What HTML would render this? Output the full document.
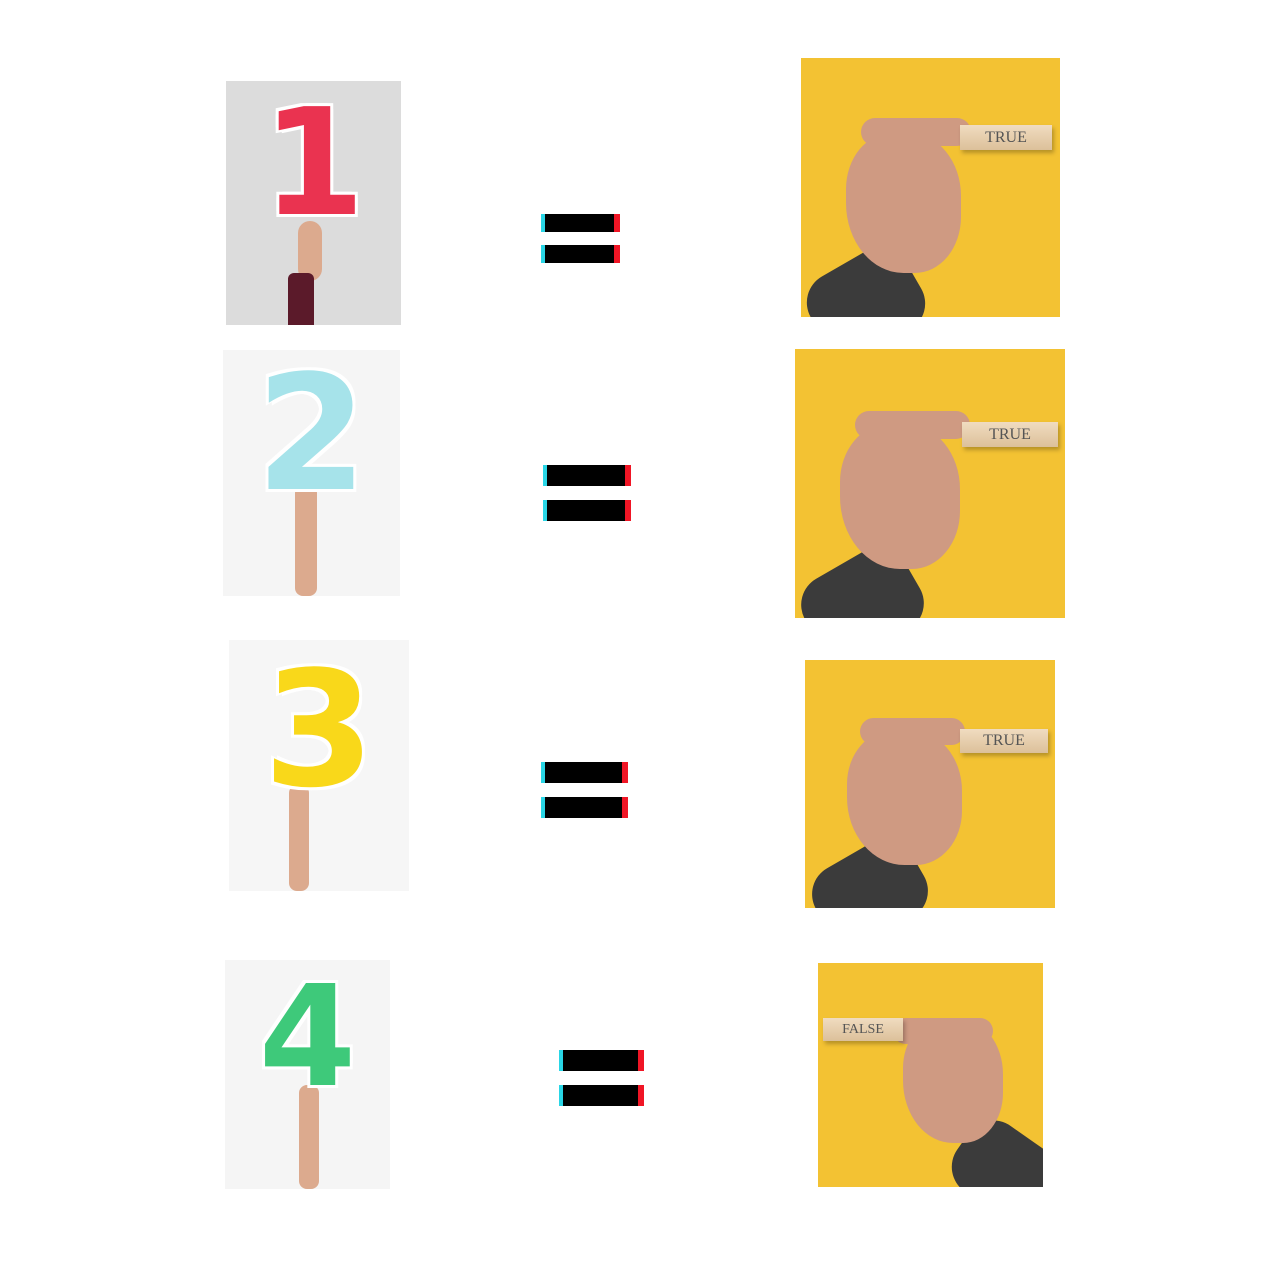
<!DOCTYPE html>
<html><head><meta charset="utf-8"><style>
html,body{margin:0;padding:0;background:#fff;width:1280px;height:1280px;overflow:hidden;position:relative;font-family:"Liberation Sans",sans-serif}
.a{position:absolute}
.num{position:absolute;font-family:"DejaVu Sans",sans-serif;font-weight:bold;text-align:center;line-height:1;text-shadow:3px 3px 0 #fff,-3px -3px 0 #fff,3px -3px 0 #fff,-3px 3px 0 #fff}
.bar{position:absolute;background:#000;border-left:4px solid #29d6e6;border-right:6px solid #f01525;box-sizing:border-box}
.yel{position:absolute;background:#f3c233;overflow:hidden}
.blk{position:absolute;background:linear-gradient(#f0dcc0,#dcc09a);font-family:"Liberation Serif",serif;color:#555;font-size:16px;text-align:center;box-shadow:2px 3px 4px rgba(0,0,0,.25)}
.hand{position:absolute;background:#cf9a82;border-radius:40% 45% 40% 50%}
.fing{position:absolute;background:#cf9a82;border-radius:14px}
.sleeve{position:absolute;background:#3b3b3b;border-radius:30px}
.arm{position:absolute;background:#dcaa8e;border-radius:8px}
</style></head><body>

<!-- Row 1 -->
<div class="a" style="left:226px;top:81px;width:175px;height:244px;background:#dcdcdc">
  <div class="arm" style="left:72px;top:140px;width:24px;height:60px;border-radius:12px"></div>
  <div class="a" style="left:62px;top:192px;width:26px;height:52px;background:#5b1a2a;border-radius:6px 6px 0 0"></div>
  <div class="num" style="left:0;top:8px;width:175px;font-size:148px;color:#ea3350">1</div>
</div>
<div class="bar" style="left:541px;top:214px;width:79px;height:18px"></div>
<div class="bar" style="left:541px;top:245px;width:79px;height:18px"></div>
<div class="yel" style="left:801px;top:58px;width:259px;height:259px">
  <div class="sleeve" style="left:10px;top:200px;width:110px;height:90px;transform:rotate(-30deg)"></div>
  <div class="hand" style="left:45px;top:75px;width:115px;height:140px"></div>
  <div class="fing" style="left:60px;top:60px;width:110px;height:28px"></div>
  <div class="blk" style="left:159px;top:67px;width:92px;height:25px;line-height:25px">TRUE</div>
</div>

<!-- Row 2 -->
<div class="a" style="left:223px;top:350px;width:177px;height:246px;background:#f5f5f5">
  <div class="arm" style="left:72px;top:135px;width:22px;height:111px"></div>
  <div class="num" style="left:0;top:4px;width:177px;font-size:160px;color:#a6e3ea">2</div>
</div>
<div class="bar" style="left:543px;top:465px;width:88px;height:21px"></div>
<div class="bar" style="left:543px;top:500px;width:88px;height:21px"></div>
<div class="yel" style="left:795px;top:349px;width:270px;height:269px">
  <div class="sleeve" style="left:10px;top:210px;width:115px;height:90px;transform:rotate(-30deg)"></div>
  <div class="hand" style="left:45px;top:75px;width:120px;height:145px"></div>
  <div class="fing" style="left:60px;top:62px;width:115px;height:28px"></div>
  <div class="blk" style="left:167px;top:73px;width:96px;height:25px;line-height:25px">TRUE</div>
</div>

<!-- Row 3 -->
<div class="a" style="left:229px;top:640px;width:180px;height:251px;background:#f6f6f6">
  <div class="arm" style="left:60px;top:145px;width:20px;height:106px"></div>
  <div class="num" style="left:0;top:10px;width:180px;font-size:160px;color:#f9d81a">3</div>
</div>
<div class="bar" style="left:541px;top:762px;width:87px;height:21px"></div>
<div class="bar" style="left:541px;top:797px;width:87px;height:21px"></div>
<div class="yel" style="left:805px;top:660px;width:250px;height:248px">
  <div class="sleeve" style="left:10px;top:190px;width:110px;height:85px;transform:rotate(-30deg)"></div>
  <div class="hand" style="left:42px;top:70px;width:115px;height:135px"></div>
  <div class="fing" style="left:55px;top:58px;width:105px;height:27px"></div>
  <div class="blk" style="left:155px;top:69px;width:88px;height:24px;line-height:24px">TRUE</div>
</div>

<!-- Row 4 -->
<div class="a" style="left:225px;top:960px;width:165px;height:229px;background:#f5f5f5">
  <div class="arm" style="left:74px;top:125px;width:20px;height:104px"></div>
  <div class="num" style="left:0;top:8px;width:165px;font-size:140px;color:#3ec97a">4</div>
</div>
<div class="bar" style="left:559px;top:1050px;width:85px;height:21px"></div>
<div class="bar" style="left:559px;top:1085px;width:85px;height:21px"></div>
<div class="yel" style="left:818px;top:963px;width:225px;height:224px">
  <div class="sleeve" style="left:135px;top:170px;width:110px;height:80px;transform:rotate(35deg)"></div>
  <div class="hand" style="left:85px;top:55px;width:100px;height:125px"></div>
  <div class="fing" style="left:75px;top:55px;width:100px;height:26px"></div>
  <div class="blk" style="left:5px;top:55px;width:80px;height:23px;line-height:23px;font-size:14px">FALSE</div>
</div>

</body></html>
